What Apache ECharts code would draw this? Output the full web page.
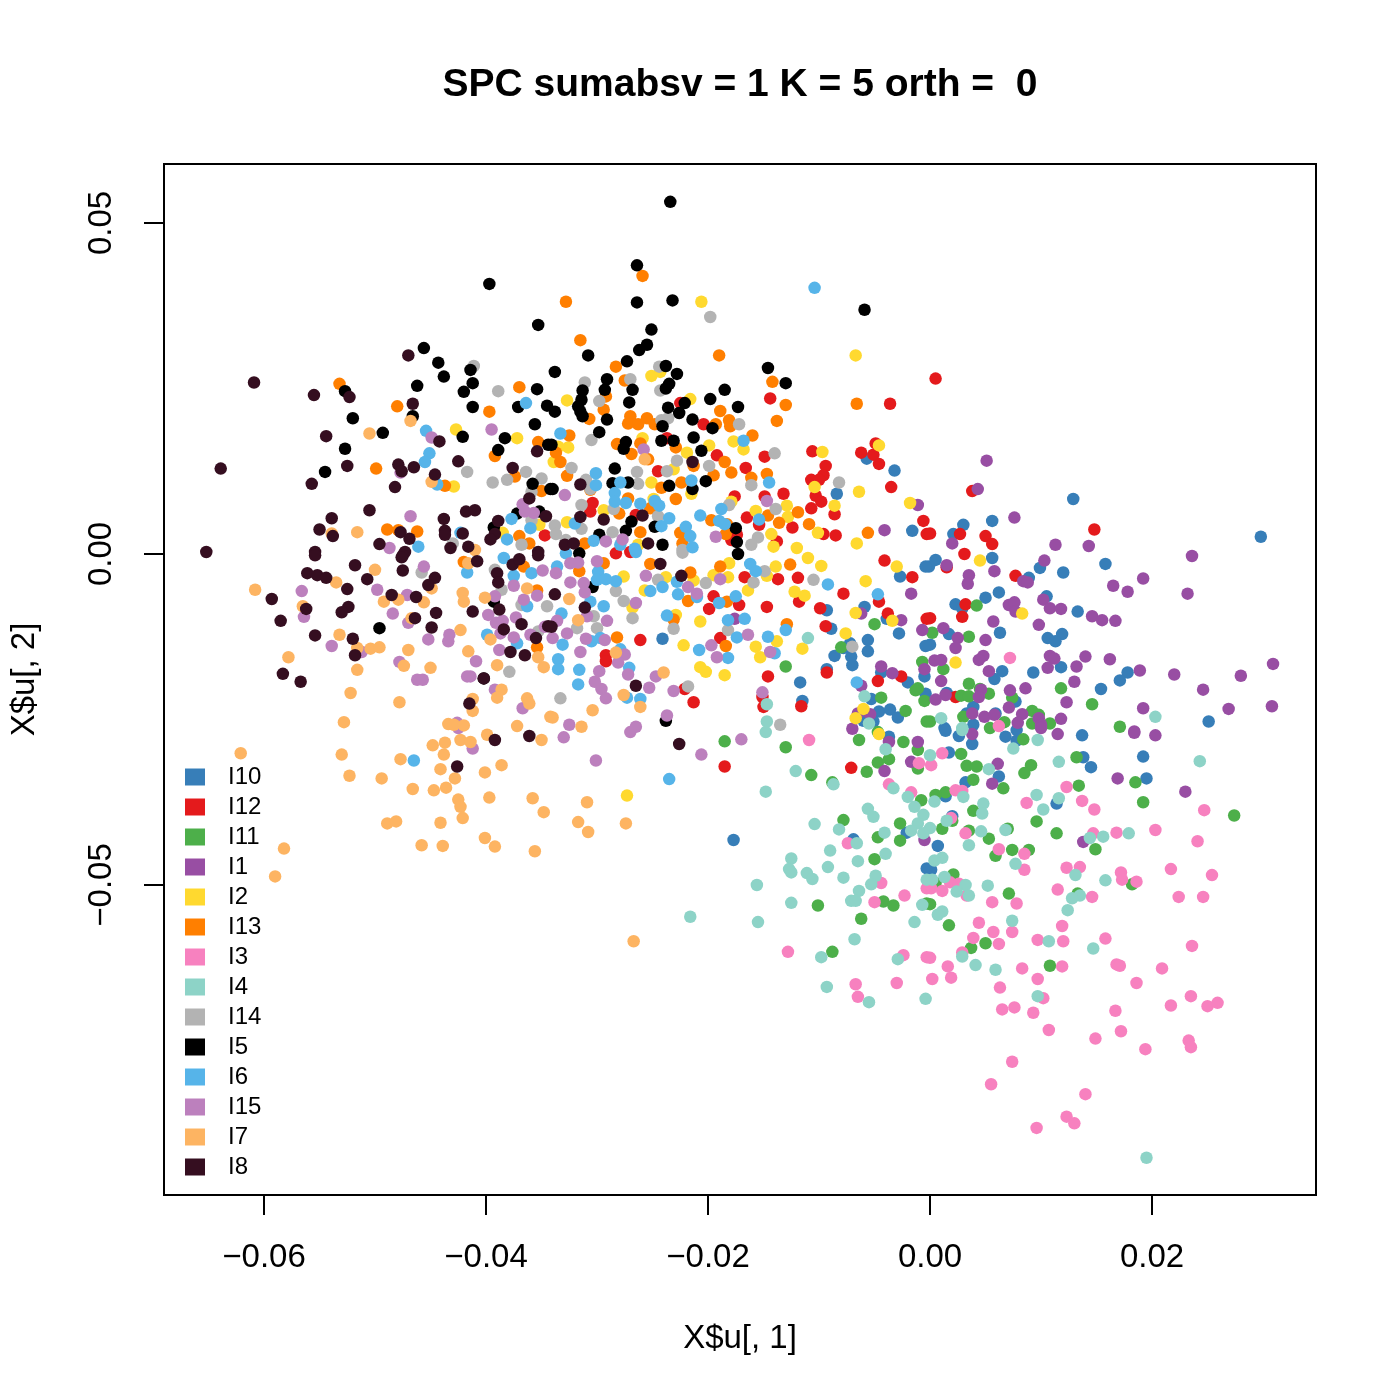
<!DOCTYPE html>
<html><head><meta charset="utf-8">
<script src="https://cdn.jsdelivr.net/npm/echarts@6/dist/echarts.min.js"></script>
<style>html,body{margin:0;padding:0;background:#fff}#c{width:1400px;height:1400px}</style>
</head><body><div id="c"></div>
<script>
// Values, in thousandths of the axis units: [u1, u2]
const I10=[[-3.2,12.6],[-5.7,14.4],[-8.4,9.1],[-1.6,3.5],[12.9,8.3],[29.8,2.6],[5.6,5],[3,4.4],[2.1,3],[15.8,-1.5],[12,-2.8],[5.6,-0.6],[0.5,-0.9],[-0.1,-1.9],[9.9,-2.1],[8.9,-3.6],[6.2,-5.8],[5,-6.6],[2.3,-7.6],[2.9,-8.2],[10.5,-6.4],[13.3,-8.7],[11.9,-12.1],[10.6,-12.7],[11.3,-13.2],[6.3,-11.9],[1.7,-12.1],[0,-13.7],[6.5,-17.7],[5.8,-18.9],[9.3,-17.9],[11.8,-17.1],[17.8,-17.9],[17.1,-19.1],[15.4,-20.4],[1.5,-21],[7.7,-22.3],[3.9,-23.1],[3.3,-24.1],[5.9,-24.1],[3.9,-25.8],[1.3,-26.3],[25.1,-25.3],[1.4,-26.7],[2.6,-27.5],[3.8,-28.7],[6.8,-27.6],[7.8,-28.2],[7.8,-26.6],[13.7,-27.4],[13.8,-30.7],[14.5,-32.2],[19.2,-30.6],[19.5,-33.9],[1.7,-30],[6.2,-33.6],[3.2,-34.5],[1.4,-36.6],[11.4,-37.7],[2,-39.6],[0.7,-44.1],[0.1,-47.7],[-24.1,-12.8],[-17.7,-43.2],[-2.7,-3.4],[-0.4,-1.9],[-5.9,-8],[-9.3,-8.5],[-8.9,-11.3],[-3.9,-9.8],[-2.8,-12],[-5.6,-13],[-5.6,-14.7],[-0.4,-13.9],[-7.2,-13.5],[-8.6,-15.4],[-7.1,-15.5],[-7,-16.8],[-7.8,-14.2],[-9.3,-17.4],[-11.7,-19.4],[-11.5,-22.2],[-4.4,-17.9],[-2,-19.4],[-0.5,-18.5],[-0.4,-21.1],[-5.3,-21.9],[-4.6,-23.8],[-3.6,-23.5],[-2.9,-24.7],[-6,-25.2],[-5.1,-25.3],[-3.7,-27.6],[-2.1,-42.1],[-6.9,-43.1],[-0.3,-47.5]];
const I12=[[-14.4,23.5],[-3.6,22.7],[0.5,26.5],[-20.4,19.6],[-23.7,17.5],[-22.5,22.8],[-10.6,15.5],[-14.9,14.7],[-6.2,15.3],[-5.1,15],[-4.6,13.6],[-4.9,16.7],[-19.2,14.9],[-16.6,13],[-9.4,13.3],[-24.5,12.5],[-9.6,11.9],[-10.7,11.2],[-10,11.2],[-3.5,10.1],[-13.2,9.1],[-17.6,8.7],[-14.9,8.7],[-10.3,8.8],[-9.8,7.9],[-10.7,6.9],[-8.6,6],[-30.4,7.7],[-30.6,6.4],[-26.5,5.9],[-16.5,5.5],[-15.4,4.4],[-12.4,4],[-0.6,5],[-0.3,3],[-8.5,2.8],[-9.6,3],[-17.4,2.9],[-17.9,2.1],[-13.8,1.9],[-34.7,2.8],[3.8,9.5],[14.8,3.7],[2.7,3],[5,2.7],[5.6,1.5],[0,3.1],[3.1,0],[1.5,-2],[7.7,-3.3],[3.2,-7.6],[2.9,-9.5],[0,-9.7],[2.3,-21.6],[-4.1,-1],[-1.6,-3.5],[-11.9,-3.6],[-13.7,-3.8],[-16.7,-3.5],[-7.8,-6],[-4.6,-7.2],[-11.8,-7.2],[-14.7,-8],[-9.9,-8.2],[-3.8,-9],[-9.4,-10.9],[-0.3,-9.8],[-19.5,-6.4],[-19.9,-8.3],[-17.2,-7.7],[-26.1,-13],[-18.9,-12.7],[-29.2,-15.3],[-29.2,-16.2],[-14.6,-18.5],[-9.3,-17.9],[-4.7,-19.2],[-2.6,-18.5],[-22.1,-20.4],[-21.3,-22.4],[-15.1,-21.6],[-15,-23.1],[-11.6,-23],[-18.5,-32.1],[-7.1,-32.3],[-28.3,0.1],[-27,0.3]];
const I11=[[4.2,-7.8],[0.2,-11.9],[3.5,-12.5],[1.2,-17.4],[11.8,-20.3],[14.6,-22.7],[3.5,-19.6],[4.5,-20.4],[5.3,-21.1],[2.8,-21.4],[3.5,-21.5],[7.4,-21.7],[3,-24.6],[9.2,-23.7],[9.8,-24.3],[6.7,-25.4],[9.2,-25.6],[10.8,-25.6],[5.4,-26.3],[0,-25.3],[17.1,-26.1],[8.4,-28],[2.8,-30.2],[13.2,-30.7],[3.3,-32],[4.2,-32.1],[9.1,-31.9],[8.5,-33.1],[3.9,-34.1],[6.6,-35.4],[13.4,-35],[18.5,-34.5],[19.2,-37.5],[27.4,-39.5],[1.4,-36],[0.5,-36.4],[3.9,-38.8],[9.6,-40.4],[1.1,-41.5],[2,-40.3],[3.5,-41.8],[11.4,-42.2],[7,-41.5],[5.3,-43],[7.4,-44.7],[8.9,-44.7],[5.9,-45.6],[14.9,-44.6],[2.1,-48.4],[0.5,-49.7],[7.1,-51.3],[13.3,-51.3],[18.2,-49.9],[0,-52.9],[1.7,-56.1],[5,-58.8],[3.7,-59.5],[10.8,-62.2],[-5,-10.6],[-8,-14.1],[-13,-17],[-4.4,-21.7],[-2.2,-23.7],[-1.1,-20.3],[-1.3,-20.6],[-0.5,-22.2],[-0.7,-16.3],[-0.3,-25.3],[-4.7,-26.9],[-6.4,-28.1],[-2.4,-28.4],[-1.1,-29.6],[-3.7,-31],[-4.7,-31.5],[-1.1,-32.4],[-5.7,-32.9],[-18.5,-28.3],[-13,-29.2],[-10.7,-33.4],[-8.8,-34.5],[-0.8,-37.2],[-7.8,-40.2],[-2.7,-40.7],[-4.7,-42.8],[-2.7,-43.3],[-5,-46.1],[-10.1,-53.1],[-4.2,-52.5],[-3.3,-53.1],[-6.2,-55.1],[-0.3,-52.8],[-8.8,-60.1]];
const I1=[[-1.1,7.4],[-4.1,3.6],[5.1,14.1],[4.3,9.8],[7.6,5.5],[11.3,1.4],[14.3,1.2],[23.6,-0.3],[2,1.6],[10.3,-1],[1.5,-1.7],[5.8,-2.6],[3.5,-3.2],[3.4,-4.5],[19.2,-3.7],[16.5,-4.8],[17.8,-5.7],[8.4,-4.1],[8.8,-4.3],[23.2,-6],[10.2,-6.9],[7.1,-7.7],[7.6,-7.3],[7.7,-8.7],[10.8,-8.2],[11.8,-8.3],[14.6,-9.4],[15.5,-10],[16.7,-10.1],[5.7,-10.2],[9.8,-10.7],[1.2,-11.2],[2.5,-12.7],[2.3,-14.2],[5,-13],[4.8,-15.4],[4.4,-16],[10.8,-15.4],[11.2,-15.8],[14,-15.5],[16.2,-15.9],[0.4,-16.1],[1,-16],[13.2,-17],[10.6,-17.2],[30.9,-16.6],[5.3,-17.7],[18.9,-17.6],[22,-18.2],[28,-18.4],[13,-19.3],[1,-19.2],[8.6,-20.3],[7.2,-20.6],[24.6,-20.5],[4.6,-20.5],[4.4,-21.6],[1.4,-21.3],[0.5,-22],[12.3,-22.4],[7.1,-23.2],[19.2,-23.3],[26.9,-23.4],[30.8,-23],[3.8,-24.1],[4.9,-24.6],[5.8,-24.3],[8.3,-24.2],[9.8,-24.8],[10,-25.8],[7.9,-25.5],[11.8,-24.9],[18.4,-26.8],[11.5,-27.2],[18.4,-27],[20.3,-27.4],[3.8,-27.2],[10,-26.3],[6.1,-31.7],[5.6,-34.7],[16.9,-33.9],[23,-35.9],[13.8,-43.5],[-1.7,-6],[-6.2,-9],[-2.6,-10],[-0.7,-11.5],[-17.6,-9.8],[-4.4,-17],[-3.4,-18],[-0.5,-17.4],[-6.2,-19.9],[-5.4,-24.2],[-6.5,-24.1],[-7,-26.4],[-3.7,-28.4],[-1.1,-28.4],[-1.7,-31.4],[-4.1,-32.8],[-0.5,-43.2]];
const I2=[[-42.7,18.8],[-37.2,17.5],[-42.9,10.2],[-35.2,4.4],[-38.5,3.2],[-20.6,38.1],[-6.7,30],[-25.1,26.9],[-24.3,27.5],[-32.7,23.2],[-21.6,23.4],[-25.9,17.5],[-32.6,16.1],[-33.5,16.2],[-17.7,17],[-16.8,15.8],[-19.9,16.4],[-21.9,15.3],[-9.7,15.4],[-4.6,16.4],[-33.9,13.9],[-23.1,12.8],[-25.1,10.8],[-10.4,10.1],[-6.4,9.4],[-21.5,9.1],[-24.9,8.3],[-8.6,7.3],[-1.8,7.7],[-12.9,7.3],[-12.8,5.6],[-15.7,6.5],[-17.9,7.9],[-29.4,6.6],[-32.7,4.8],[-14.3,3],[-10.1,3.2],[-6.6,1.6],[-14.1,1.1],[-12,0.9],[-26.3,1.4],[4.5,-1],[8.3,-9],[2.3,-16.4],[-11,-0.6],[-9.8,-1.8],[-18.1,-1.4],[-13.9,-1.9],[-3,-1.9],[-27.6,-3.4],[-23.8,-3.5],[-21.3,-4],[-19.5,-3.2],[-18.2,-3.5],[-14.7,-3.3],[-5.8,-4.1],[-25.7,-5.5],[-16.4,-5.5],[-12.2,-5.7],[-11.3,-6.3],[-26.8,-8.1],[-22.9,-9.2],[-20.7,-10.2],[-6.7,-8.9],[-3.4,-10.1],[-7.6,-12],[-22.2,-13.8],[-13.8,-13.2],[-11.5,-14.3],[-15.7,-14],[-15.3,-15.6],[-20.7,-17.1],[-20.2,-17.8],[-18.5,-18.3],[-27.3,-36.5],[-6,-23.4],[-6.7,-24.8],[-4.6,-27.2]];
const I13=[[-53.2,25.7],[-48,22.3],[-39.7,21.5],[-37,25.2],[-35.3,16.9],[-39.2,14.8],[-49.9,12.9],[-37.4,11.7],[-43.7,10.3],[-35,9.5],[-48.9,3.7],[-47.9,3.6],[-46.2,3.4],[-37,2.7],[-36.1,1.6],[-32.8,38.1],[-25.9,42],[-31.5,32.3],[-19,30],[-28.3,28.3],[-27.5,26.2],[-14.2,26],[-29.2,23.8],[-6.6,22.7],[-13,22.5],[-29.4,21.8],[-18.9,21.6],[-30.7,20.4],[-13.8,20.1],[-27,20.8],[-27.2,19.7],[-26.3,19.6],[-25.5,20.5],[-24.8,19.6],[-18.1,20.2],[-18,19.3],[-19.3,19.6],[-32.5,17.9],[-16,17.9],[-28.2,16.6],[-26.1,16.7],[-26.9,15.1],[-22.9,16.1],[-33.7,15.3],[-33.3,13.9],[-25.4,14.3],[-21.3,13.3],[-18.5,13.9],[-17.9,12.3],[-19.5,11.9],[-32.7,11.8],[-16.1,11.5],[-14.7,12.1],[-22.4,10.8],[-24.2,10],[-22.9,8.3],[-27.2,8.4],[-30.6,9.7],[-28,6.1],[-25.2,6.9],[-19.7,5.1],[-18.3,4.5],[-13.6,4.7],[-11.9,6.3],[-14.6,5.8],[-10.9,4.5],[-5.6,3.2],[-26.1,3.3],[-18.4,3],[-31.1,1.6],[-22.5,3.2],[-22.3,1.6],[-25.2,-1.5],[-29.4,-1.4],[-31.6,-2.6],[-18.9,-1.9],[-21.6,-2.8],[-12.6,-1.6],[-21.8,-7.1],[-18.3,-7.2],[-23.1,-9.9],[-28.2,-12.6],[-18.4,-13.9],[-12.9,-10.6],[-42,-1.2],[-36.6,-1.9],[-35.4,-14.1],[-35.4,-5.5]];
const I3=[[7.2,-15.7],[6.2,-26],[-10.9,-28.1],[-1,-31.6],[-3.7,-34.8],[-1.7,-36],[-7.4,-43.7],[-4.4,-49.7],[-2.3,-51.6],[-5,-52.6],[-0.3,-50.5],[1.1,-30.1],[0.1,-31.9],[2.3,-35.7],[2.9,-35.8],[8.7,-37.6],[12.3,-35.2],[13.7,-37.3],[14.8,-38.6],[24.7,-38.7],[1.9,-39.9],[20.3,-41.7],[3.2,-42.2],[14.7,-42.2],[16.8,-42.1],[24.1,-43.4],[6.2,-44.6],[8.5,-45.3],[8.5,-47.7],[12.3,-47.4],[13.5,-47.3],[17.2,-48.1],[17.3,-49.2],[18.6,-49.5],[21.7,-47.6],[25.4,-48.5],[1.8,-49.6],[2.6,-49.8],[1.1,-50.9],[0.1,-50.5],[11.5,-50.7],[14.6,-51.8],[22.4,-51.8],[24.6,-51.8],[3.3,-51.6],[5.6,-52.6],[7.8,-52.8],[4.4,-55.7],[11.9,-56.2],[5.7,-57.1],[7.4,-57.1],[3.9,-58],[15.8,-58.1],[9.7,-58.3],[12,-58.5],[6.2,-58.9],[23.6,-59.2],[2.9,-60.2],[0,-61],[1.6,-62.3],[8.3,-62.6],[11.9,-62.3],[16.8,-62],[17.1,-62.2],[20.9,-62.6],[1.9,-64],[0.2,-64.2],[9.7,-64.2],[18.6,-64.8],[6.3,-65.5],[23.5,-66.8],[10.2,-67.1],[21.7,-68.2],[25,-68.3],[25.9,-67.8],[6.5,-68.8],[7.6,-68.5],[9.3,-69.3],[16.7,-69],[10.7,-71.9],[17.2,-72.1],[14.9,-73.2],[23.3,-73.5],[23.5,-74.5],[19.4,-74.8],[7.4,-76.7],[5.5,-80.1],[14,-81.6],[12.3,-85],[13,-86],[9.6,-86.7],[-12.8,-60.1],[-6.7,-65],[-6.5,-66.9],[-3,-64.8],[-2.4,-60.6],[-0.3,-60.9],[0,-50]];
const I4=[[1,-24.8],[2.9,-26.3],[20.3,-24.6],[9.7,-28.1],[7.5,-29.4],[2.9,-26.6],[0,-30.4],[11.6,-31.4],[24.3,-31.3],[5.3,-32.5],[9.6,-36.4],[11.6,-36.9],[3,-36.7],[0.4,-37.4],[4.8,-37.7],[4.7,-39.2],[10.2,-38.6],[1.5,-40.3],[0,-41.4],[4.6,-41.9],[6.8,-41.7],[3.5,-44],[17.9,-42.2],[15.6,-42.7],[14.4,-42.9],[1.1,-45.9],[0.4,-46.3],[7.7,-46.8],[13.1,-48.5],[1.3,-48.8],[0.2,-49.2],[15.8,-49.3],[5.2,-50.1],[3.2,-50],[2.4,-51],[3.5,-51.6],[13.5,-51.6],[12.8,-52],[12.4,-53.8],[1.1,-54],[0.7,-54.5],[7.4,-55.4],[10.7,-58.5],[14.7,-59.6],[2.9,-60.8],[4.1,-62.1],[5.9,-62.8],[9.7,-66.8],[-0.4,-67.2],[19.5,-91.2],[-11,-12.7],[-14.7,-22.7],[-14.7,-25.3],[-14.8,-26.9],[-5.9,-21.5],[-5.5,-25.6],[-4,-29.5],[-12.1,-32.8],[-8.7,-34.8],[-14.8,-35.9],[-3.3,-35.4],[-2,-36.7],[-1.4,-38.2],[-5.6,-38.5],[-5.1,-39.7],[-0.6,-39.4],[-1.1,-40.7],[-10.4,-40.8],[-8.2,-41.6],[-4.1,-42.1],[-1.7,-41.8],[-0.6,-42.2],[-6.6,-43.7],[-9,-44.8],[-4,-45.3],[-6.5,-46.4],[-12.5,-46],[-12.7,-47.6],[-12.5,-48.1],[-9.2,-47.3],[-11.1,-48.2],[-10.6,-49.1],[-7.8,-48.9],[-4.9,-48.6],[-5.3,-49.9],[-0.3,-49.2],[-15.6,-50],[-6.4,-50.9],[-7.1,-52.4],[-6.7,-52.4],[-12.5,-52.7],[-0.7,-53],[-21.6,-54.8],[-15.5,-55.6],[-1.4,-55.6],[-6.8,-58.2],[-9.8,-60.9],[-9.3,-65.4],[-5.5,-67.7],[-2.9,-61.2]];
const I14=[[-41.1,28.4],[-38.9,24.6],[-41.7,12.4],[-39.4,10.8],[-38.1,11.2],[-36.4,12.4],[-35,11.4],[-35.9,9.4],[-35.9,5.1],[-43,1.6],[-36.8,1.4],[-19.8,35.8],[-24.4,28.3],[-27,26.4],[-31.1,25.9],[-24.3,24.7],[-29.8,23.1],[-23.6,20.5],[-24.2,20.2],[-17.2,19.6],[-30.5,17.2],[-14,15.2],[-22.8,14.1],[-19.9,13.3],[-32.3,13],[-23.7,12.5],[-26.4,12.4],[-26.3,10.6],[-8.2,10.8],[-16.1,10.4],[-31,11.2],[-30.6,9.8],[-31.4,7.4],[-28.5,6.8],[-18.1,7.4],[-13.9,6.8],[-24.5,5.7],[-31.4,3.8],[-33.8,4.3],[-33.7,3],[-28.6,3.3],[-15.5,2.5],[-32.8,2.1],[-16.1,1.4],[-22.3,0.6],[-39.2,-2.4],[-45.8,-2.8],[-38.6,-5.4],[-37.9,-17.8],[-34.5,-7.9],[-35.3,-11.7],[-36.8,-7.7],[-14.9,-2.6],[-15.9,-4.3],[-20.2,-4.4],[-24.5,-3.9],[-10.5,-3.9],[-28.3,-5.6],[-27.6,-7.1],[-30.3,-9.4],[-26.8,-9.7],[-30,-11.2],[-31.8,-11.2],[-23.1,-11.3],[-18.2,-11.5],[-33.3,-21.8],[-21.8,-20],[-13.5,-25.8],[-7,-14],[-22.3,0.2]];
const I5=[[-23.4,53.2],[-26.4,43.6],[-26.4,38],[-23.2,38.3],[-5.9,36.9],[-25.1,33.9],[-30.8,30],[-25.5,31.6],[-26.2,30.8],[-27.3,29.1],[-33.8,27.5],[-23.8,28.4],[-22.8,27.2],[-14.6,28.1],[-13,25.8],[-29.1,26.4],[-31.3,24.7],[-29.3,24.8],[-23.5,25.7],[-23.8,25],[-26.8,24.8],[-18.5,24.8],[-27.1,22.9],[-19.8,23.4],[-17.3,22.2],[-31.4,23.3],[-31.7,22.3],[-31.5,21.5],[-31.3,20.8],[-33.8,21.5],[-23.6,22.1],[-22.1,22.8],[-22.6,21.3],[-29.1,20.3],[-21.4,20.3],[-24.1,19.3],[-19.6,19],[-29.8,18.4],[-21.3,17.6],[-27.4,16.9],[-27.6,15.9],[-24.2,17.1],[-23.1,17.1],[-20.6,15.6],[-34.1,16.5],[-28.4,12.9],[-28.6,10.7],[-27.2,10.8],[-20.2,11],[-23.5,10.3],[-21.4,9.8],[-34,9.8],[-26.9,4.9],[-27.4,3.5],[-24.8,4.1],[-17.5,3.9],[-17.4,1.8],[-29.8,2.9],[-24.1,1.4],[-39.7,40.8],[-35.3,34.6],[-45.6,31.1],[-44.3,28.9],[-41.4,27.8],[-43.8,26.8],[-41.2,25.8],[-42,24.5],[-46.2,25.4],[-35.4,24.9],[-52.7,24.6],[-41.2,22.2],[-37.1,22.2],[-34.5,22.4],[-46.6,20.8],[-52,20.5],[-35.6,19.6],[-49.3,18.3],[-42.1,17.7],[-38.3,17.5],[-52.7,15.9],[-38.9,15.7],[-34.4,16.5],[-54.5,12.4],[-35.8,10.6],[-34.2,9.8],[-37.2,6.1],[-35.2,6.4],[-39.3,4],[-49.6,-11.2],[-23.8,-25.2],[-39.3,-7.2],[-17.3,0],[-31.6,0.1],[-30.4,-5],[-40.2,-18.8]];
const I6=[[-36.4,22.8],[-45.4,18.6],[-45.1,15.2],[-45.5,13.9],[-44.4,10.5],[-42.3,3.2],[-37.7,5.3],[-36,3.9],[-38.1,2.2],[-46.1,1.1],[-10.4,40.2],[-33.3,18.2],[-16.8,17.1],[-21.5,11.1],[-30.1,12.2],[-30.1,10.4],[-27.9,10.8],[-14.5,10.8],[-28.4,9.2],[-28.4,7.9],[-27.4,7.7],[-26.1,7.6],[-24.8,8],[-24.4,7.3],[-18.8,6.8],[-20.7,5.8],[-23.5,5.4],[-24.2,4.2],[-19,5],[-18.5,4.5],[-15.4,5.2],[-22,4.1],[-21.6,2.7],[-21.4,1],[-30.3,2],[-32,4.6],[-27.9,1.4],[-26.6,0.8],[-38.4,-0.6],[-41.7,-2.8],[-37.5,-3.3],[-35.9,-2.9],[-36.3,-7.9],[-39.9,-12.2],[-37.2,-13.5],[-46.5,-31.2],[-26.5,0.3],[-32.8,0.1],[-33.6,-1.9],[-29.9,-2.7],[-30,-3.9],[-29.2,-3.8],[-28.3,-4.1],[-25.2,-5.6],[-24.1,-5],[-22.7,-6.1],[-22.8,-4.2],[-21,-6.5],[-19,-7.4],[-17.5,-6.4],[-16.2,-1.5],[-15.7,-2.6],[-9.2,-4.6],[-4.7,-6.1],[-29.4,-7.9],[-30.6,-7.2],[-23.7,-9.3],[-33.2,-9],[-18.2,-10],[-16.7,-9.8],[-17.4,-12.6],[-13,-11.5],[-14.6,-12.5],[-20.8,-14.5],[-18.2,-15.7],[-14,-15],[-33.1,-13.7],[-30.5,-13.2],[-29.7,-12.7],[-33.5,-15.9],[-33.5,-17.4],[-31.6,-17.5],[-31.7,-19.7],[-27.9,-14.4],[-27.1,-17.2],[-26.1,-21.9],[-27.3,-21.7],[-6.6,-19.4],[-23.5,-34]];
const I15=[[-44.9,17.6],[-39.5,18.8],[-46.8,5.7],[-36.7,7.5],[-36.5,6.4],[-35.7,6.2],[-48.7,0.9],[-47.7,12.3],[-25.8,15.8],[-32.9,8.9],[-14.7,8],[-29.2,1.9],[-27.7,2.2],[-19.3,2.6],[-45.6,-1.9],[-56.6,-5.6],[-56.4,-9.5],[-49.8,-5.4],[-47.1,-6.2],[-48.4,-9],[-47,-10.4],[-39.2,-6.4],[-37.5,-4.8],[-36.6,-6.9],[-35.4,-6.3],[-34.9,-2.5],[-39.8,-9.2],[-39.1,-10.4],[-38.5,-10.1],[-37.3,-9.6],[-38.7,-12],[-37.5,-12.6],[-36,-12.2],[-34.7,-11],[-45.2,-12.9],[-43.3,-12.2],[-43.4,-13.2],[-53.9,-13.9],[-51.2,-14.8],[-38.8,-14.5],[-40.9,-16.2],[-47.8,-16.3],[-46.2,-19],[-45.7,-19],[-41.7,-18.5],[-41.4,-18.5],[-39.2,-20.5],[-36.7,-23.3],[-42.6,-25.5],[-42.5,-26.3],[-41.2,-29.4],[-33.7,-2.9],[-32.4,-1.4],[-31.7,-1.3],[-30,-1.1],[-32.4,-4.3],[-31.2,-4.4],[-31.1,-5.8],[-25.6,-3.3],[-21.8,-5],[-21,-6],[-18.9,-3.8],[-26.5,-7.4],[-30.9,-9.4],[-29.1,-10.1],[-33.6,-10.1],[-32.7,-12],[-34,-12.7],[-31,-12.8],[-29.3,-13],[-31.5,-14.8],[-27.5,-15.2],[-28.1,-16.4],[-29.8,-17.7],[-27.2,-18.2],[-30.2,-19.3],[-29.6,-20.4],[-29.2,-21.8],[-24.7,-18.5],[-25.3,-20.2],[-23.1,-20.7],[-23.7,-24.4],[-26.5,-26.1],[-27,-26.9],[-32.5,-25.8],[-33,-27.7],[-30.1,-31.2],[-20.6,-30.3],[-17,-28],[-19.7,-13.8],[-19.2,-15.6],[-16.4,-12.2],[-14.4,-14.8],[-15.1,-20.9]];
const I7=[[-50.5,18.2],[-46.8,20.1],[-44.9,10.9],[-51.6,3.3],[-53.9,3.1],[-41,0.6],[-25.7,14.3],[-60.8,-5.4],[-50,-2.4],[-53.5,-4.3],[-41.6,-1.4],[-44.9,-5.2],[-42.1,-5.9],[-42,-7.2],[-40.1,-6.6],[-49.2,-7.2],[-47.9,-6.9],[-45.6,-7.3],[-36.3,-5.2],[-56.5,-7.9],[-46.7,-9.7],[-42.3,-11.5],[-53.2,-12.2],[-39.6,-12.9],[-51.6,-14.2],[-50.4,-14.3],[-49.6,-14.1],[-47,-14.5],[-41.6,-14.7],[-57.8,-15.6],[-35.3,-15.6],[-34.8,-17.1],[-39,-16.8],[-47.4,-16.9],[-45,-17.2],[-51.6,-17.5],[-52.2,-21],[-38.6,-20.5],[-39,-21.7],[-36.3,-21.8],[-36.1,-22.6],[-41.2,-21.9],[-41.2,-23.7],[-47.8,-22.4],[-52.8,-25.4],[-34.2,-24.6],[-43.4,-25.7],[-42.9,-25.8],[-42,-25.9],[-37.2,-26],[-39.9,-27.3],[-35,-28.1],[-42.3,-28.1],[-41.4,-28.4],[-44.8,-28.9],[-43.7,-28.5],[-43.8,-30.3],[-62.1,-30.1],[-53,-30.3],[-47.7,-31],[-44.1,-32.5],[-38.6,-31.9],[-40.1,-33],[-42.8,-33.9],[-52.3,-33.5],[-49.4,-33.9],[-46.6,-35.5],[-44.7,-35.7],[-43.6,-35.3],[-39.7,-36.8],[-35.8,-36.9],[-42.5,-37.1],[-42.3,-38.2],[-42.1,-39.9],[-34.8,-39],[-48.9,-40.7],[-48.1,-40.4],[-44.1,-40.6],[-40.1,-42.9],[-39.2,-44.2],[-45.8,-44],[-43.9,-44.1],[-35.6,-44.9],[-58.2,-44.5],[-59,-48.7],[-32.5,-6.8],[-31.7,-10],[-28.3,-14.9],[-24,-17.9],[-27.6,-21.3],[-26.1,-23.1],[-30.4,-23.6],[-34,-24.7],[-31.4,-26.1],[-30.9,-37.5],[-31.7,-40.5],[-30.8,-42],[-27.4,-40.7],[-26.7,-58.5]];
const I8=[[-60.9,25.9],[-63.9,12.9],[-55.5,24],[-52.3,23.7],[-47,30],[-46.6,22.7],[-54.4,17.8],[-44.2,17],[-35.4,15.5],[-52.5,13.3],[-42.5,14],[-55.7,10.6],[-47.9,13.5],[-47.6,12.5],[-46.5,13.1],[-44.6,12],[-48.2,10.1],[-37.6,13],[-36.1,8.4],[-50.5,6.6],[-41.8,6.4],[-41,6.6],[-53.9,5.4],[-43.8,5.3],[-34.6,5.7],[-38.9,5],[-55,3.7],[-53.8,2.7],[-47.7,3.3],[-46.9,2.3],[-43.7,3.5],[-43.7,2.9],[-42.1,3.1],[-39.2,3],[-39.6,2.2],[-49.6,1.5],[-65.2,0.3],[-47.3,0.3],[-43.2,0.9],[-41.6,1.1],[-55.4,0.3],[-35.3,0.3],[-21.4,13.9],[-31.5,10.5],[-31.5,5.6],[-29.4,5.2],[-25.9,5.8],[-32.9,1.4],[-32.1,1.6],[-25.4,1.6],[-56.1,-2.9],[-55.2,-3.2],[-54.4,-3.6],[-55.4,-0.2],[-51.8,-1.7],[-47.5,-0.2],[-47.6,-0.5],[-47.5,-2.5],[-50.7,-3.8],[-52.5,-5.3],[-44.6,-3.6],[-45.2,-4.7],[-40.8,-1.1],[-37.6,-1.6],[-37,-0.8],[-39,-2.9],[-38.9,-4.3],[-35.3,-0.2],[-59.3,-6.8],[-48.5,-6.2],[-46.3,-6.5],[-56.2,-8.3],[-52.4,-8],[-53,-8.8],[-58.5,-10.1],[-44.5,-8.9],[-41.2,-8.7],[-38.8,-8.4],[-46.4,-9.7],[-44.9,-11.1],[-38.4,-11.4],[-36.8,-10.6],[-34.4,-10.9],[-55.4,-12.3],[-52,-12.8],[-35.5,-12.7],[-37.8,-14.8],[-36.5,-15.3],[-51.8,-15.3],[-58.3,-18.1],[-56.7,-19.3],[-40.2,-18.8],[-41.5,-22.6],[-36.1,-27.5],[-39.2,-28.1],[-42.6,-32.1],[-24.3,-1.5],[-22.4,-3.3],[-33.8,-6.1],[-31.1,-8.1],[-34.1,-11],[-26.5,-19.9],[-22.6,-28.7]];

const seriesNames=["I10","I12","I11","I1","I2","I13","I3","I4","I14","I5","I6","I15","I7","I8"];
const seriesValues=[I10,I12,I11,I1,I2,I13,I3,I4,I14,I5,I6,I15,I7,I8];
const seriesColors=["#377EB8","#E41A1C","#4DAF4A","#984EA3","#FFD92F","#FF7F00","#F781BF","#8DD3C7","#B3B3B3","#000000","#56B4E9","#BC80BD","#FDB462","#350E20"];
const xTicks=[-0.06,-0.04,-0.02,0,0.02];
const yTicks=[-0.05,0,0.05];
const thousandth=0.001;

const fmt=v=>v.toFixed(2).replace('-','\u2212');
const font='"Liberation Sans",Arial,sans-serif';
const chart=echarts.init(document.getElementById('c'),null,{renderer:'canvas'});
chart.setOption({
  animation:false,
  backgroundColor:'#fff',
  title:{text:'SPC sumabsv = 1 K = 5 orth =  0',left:735,top:61,textAlign:'center',
    textStyle:{fontFamily:font,fontWeight:'bold',fontSize:39,color:'#000'}},
  grid:{left:164,top:164,width:1152,height:1031,show:true,borderColor:'#000',borderWidth:2,backgroundColor:'transparent',outerBoundsMode:'none',containLabel:false},
  legend:{orient:'vertical',left:180,top:760,padding:5,itemWidth:20,itemHeight:17,itemGap:6,icon:'rect',
    data:seriesNames,textStyle:{fontFamily:font,fontSize:24,color:'#000',padding:[0,0,0,18]}},
  xAxis:{type:'value',min:-0.06901,max:0.03477,splitLine:{show:false},
    name:'X$u[, 1]',nameLocation:'middle',nameGap:127,nameTextStyle:{fontFamily:font,fontSize:33,color:'#000'},
    axisLine:{show:false,onZero:false},
    axisTick:{show:true,length:20,lineStyle:{color:'#000',width:2},customValues:xTicks},
    axisLabel:{show:true,margin:46,fontFamily:font,fontSize:33,color:'#000',customValues:xTicks,formatter:fmt,showMinLabel:true,showMaxLabel:true}},
  yAxis:{type:'value',min:-0.09683,max:0.05891,splitLine:{show:false},
    name:'X$u[, 2]',nameLocation:'middle',nameGap:123,nameRotate:90,nameTextStyle:{fontFamily:font,fontSize:33,color:'#000'},
    axisLine:{show:false,onZero:false},
    axisTick:{show:true,length:20,lineStyle:{color:'#000',width:2},customValues:yTicks},
    axisLabel:{show:true,rotate:90,margin:46,fontFamily:font,fontSize:33,color:'#000',customValues:yTicks,formatter:fmt,align:'center',verticalAlign:'bottom'}},
  series:seriesNames.map((n,i)=>({
    name:n,type:'scatter',symbol:'circle',symbolSize:12.5,large:false,
    itemStyle:{color:seriesColors[i],opacity:1},
    data:seriesValues[i].map(p=>[p[0]*thousandth,p[1]*thousandth])
  }))
});
</script></body></html>
